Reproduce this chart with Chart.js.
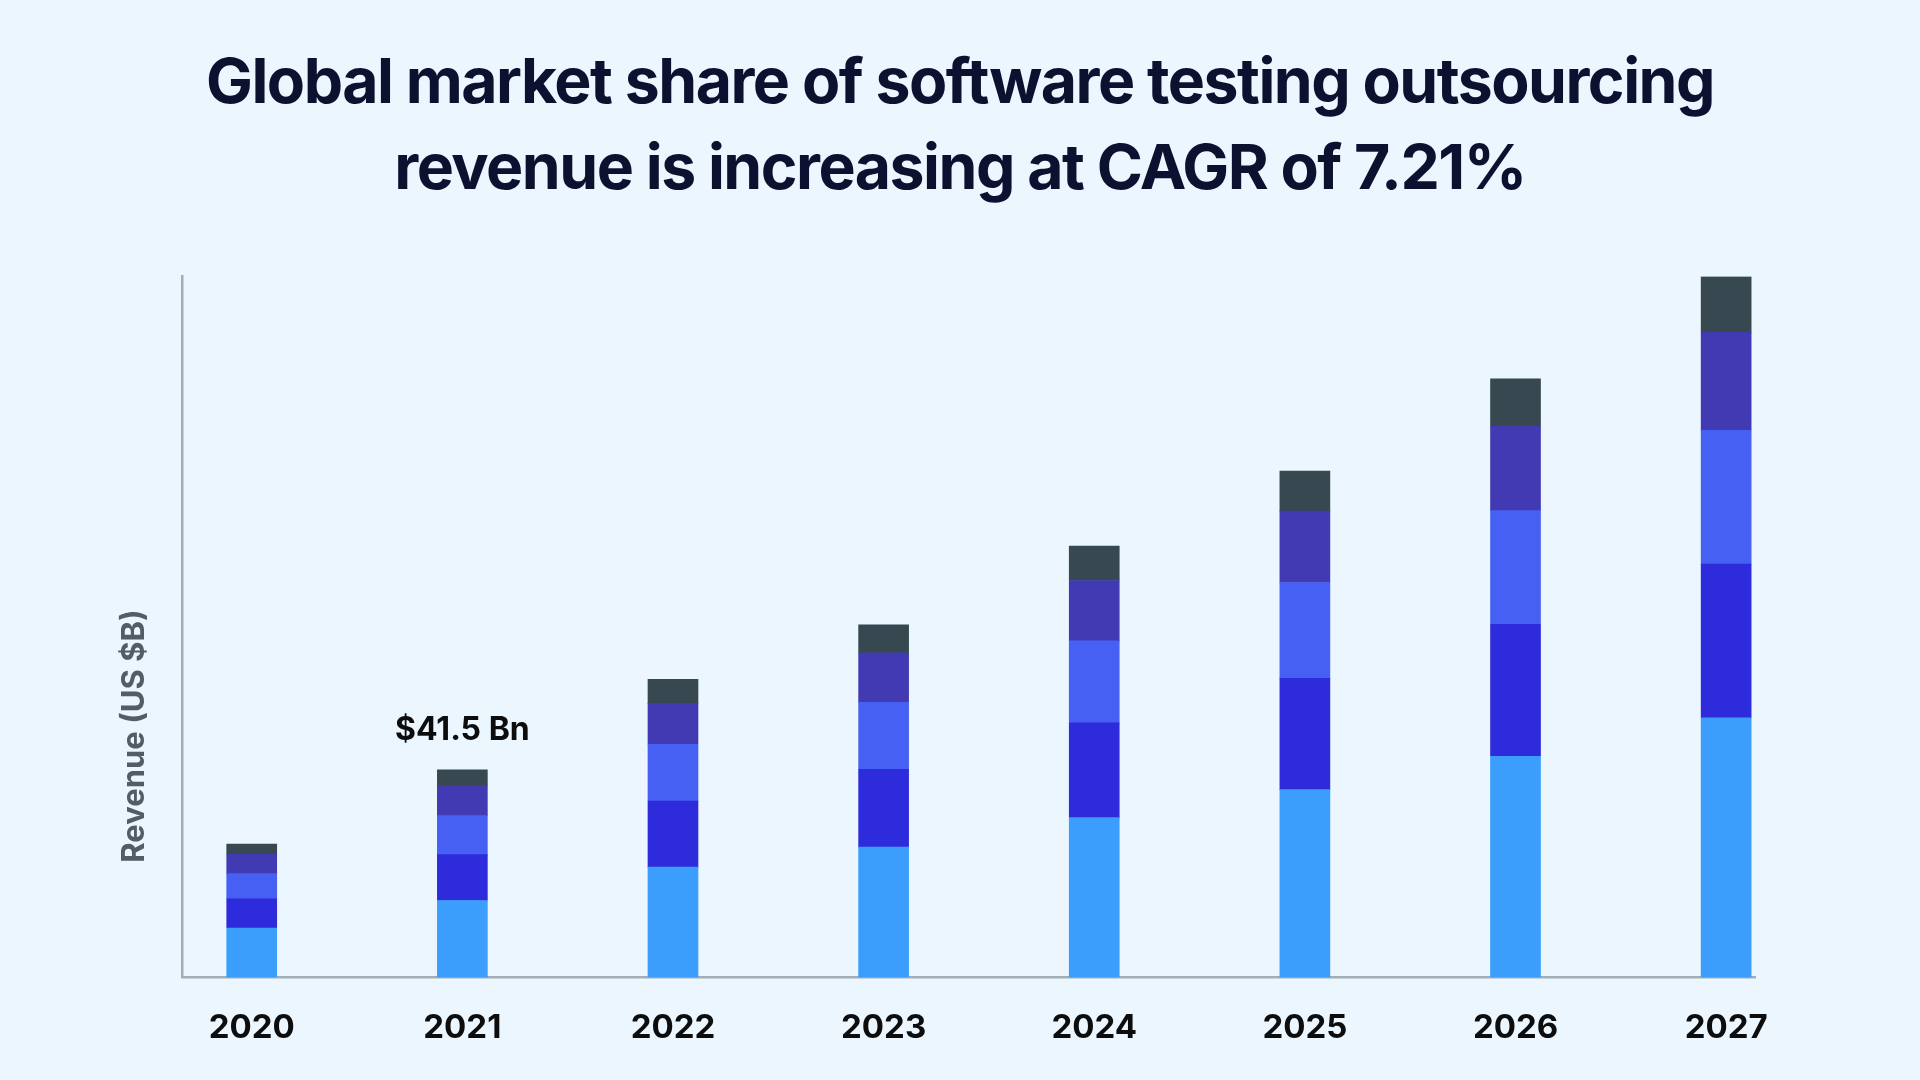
<!DOCTYPE html>
<html>
<head>
<meta charset="utf-8">
<script src="https://cdn.jsdelivr.net/npm/chart.js@4.4.1/dist/chart.umd.min.js"></script>
<style>
  html, body { margin: 0; padding: 0; background: #ebf6fe; }
  #wrap { position: relative; width: 1920px; height: 1080px; overflow: hidden; }
  #titulo {
    position: absolute; left: 0; top: 37px; width: 1920px; margin: 0;
    text-align: center; font-family: Inter, sans-serif; font-weight: 700;
    font-size: 62.5px; line-height: 86px; letter-spacing: -1.5px; color: #0c1130;
  }
  canvas { position: absolute; left: 0; top: 0; }
</style>
</head>
<body>
<div id="wrap">
  <h1 id="titulo">Global market share of software testing outsourcing<br>revenue is increasing at CAGR of 7.21%</h1>
  <canvas id="chart_revenue" width="1920" height="1080"></canvas>
</div>
<script>
const years = [2020, 2021, 2022, 2023, 2024, 2025, 2026, 2027];
const serie1 = [9.9, 15.4, 22.1, 26.1, 32.0, 37.6, 44.3, 52.0];
const serie2 = [5.9, 9.2, 13.2, 15.6, 19.0, 22.3, 26.4, 30.8];
const serie3 = [5.0, 7.8, 11.4, 13.4, 16.4, 19.2, 22.8, 26.8];
const serie4 = [3.9, 6.0, 8.2, 9.9, 12.1, 14.3, 16.9, 19.6];
const serie5 = [2.0, 3.2, 4.8, 5.6, 6.9, 8.0, 9.5, 11.2];
const colores = ["#3b9efc", "#2e2bdd", "#4660f3", "#423ab3", "#374850"];
const etiquetaAnio = 2021;
const etiquetaTexto = "$41.5 Bn";
const tituloEje = "Revenue (US $B)";

function puntos(valores) {
  return valores.map(function (v, i) {
    return { x: years[i], y: v };
  });
}

// etiqueta sobre la barra de 2021 y titulo del eje y
const pluginTextos = {
  id: "textos",
  afterDatasetsDraw: function (chart) {
    let ctx = chart.ctx;
    let xs = chart.scales.x;
    let ys = chart.scales.y;
    let i = years.indexOf(etiquetaAnio);
    let total = serie1[i] + serie2[i] + serie3[i] + serie4[i] + serie5[i];

    ctx.save();
    ctx.fillStyle = "#0d0d0d";
    ctx.font = "700 32px Inter";
    ctx.textAlign = "center";
    ctx.textBaseline = "alphabetic";
    ctx.fillText(etiquetaTexto, xs.getPixelForValue(etiquetaAnio), ys.getPixelForValue(total) - 30);

    ctx.translate(chart.chartArea.left - 47, 736);
    ctx.rotate(-Math.PI / 2);
    ctx.fillStyle = "#535d65";
    ctx.font = "700 31px Inter";
    ctx.textBaseline = "middle";
    ctx.fillText(tituloEje, 0, 0);
    ctx.restore();
  },
};

let series = [serie1, serie2, serie3, serie4, serie5];

new Chart(document.getElementById("chart_revenue"), {
  type: "bar",
  data: {
    datasets: series.map(function (s, i) {
      return {
        label: "Segmento " + (i + 1),
        data: puntos(s),
        backgroundColor: colores[i],
        barThickness: 50,
        borderWidth: 0,
      };
    }),
  },
  options: {
    responsive: false,
    animation: false,
    devicePixelRatio: 1,
    layout: { padding: { left: 174, right: 165, top: 276.5, bottom: 9 } },
    plugins: {
      legend: { display: false },
      tooltip: { enabled: false },
    },
    scales: {
      x: {
        type: "linear",
        stacked: true,
        offset: false,
        min: 2019.669,
        max: 2027.137,
        afterBuildTicks: function (scale) {
          scale.ticks = years.map(function (y) {
            return { value: y };
          });
        },
        ticks: {
          padding: 23,
          color: "#0d0d0d",
          font: { family: "Inter", size: 33, weight: "700" },
          callback: function (value) {
            return String(value);
          },
        },
        grid: { display: false },
        border: { color: "#a3adb4", width: 2.5 },
      },
      y: {
        stacked: true,
        min: 0,
        max: 140.4,
        ticks: { display: false },
        grid: { display: false },
        border: { color: "#a3adb4", width: 2.5 },
      },
    },
  },
  plugins: [pluginTextos],
});
</script>
</body>
</html>
